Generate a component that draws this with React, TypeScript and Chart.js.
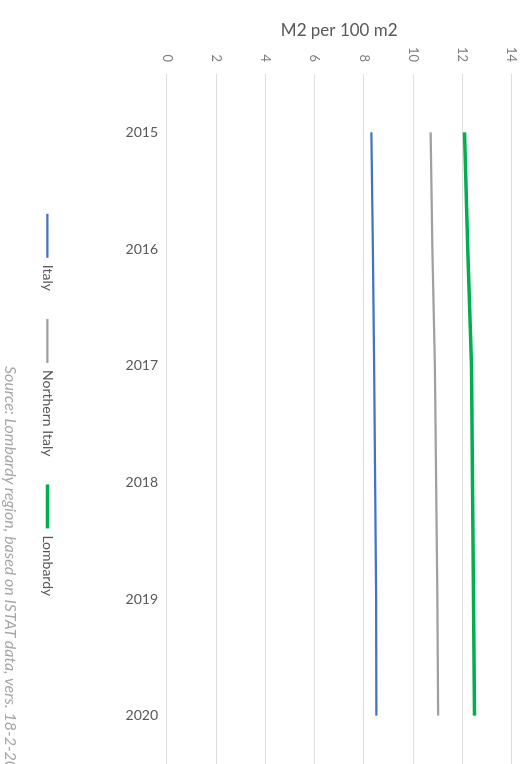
import React, { useEffect, useRef } from "react";
import { Chart, registerables } from "chart.js";

Chart.register(...registerables);

const years = ["2015", "2016", "2017", "2018", "2019", "2020"];
const italy = [8.31, 8.37, 8.42, 8.46, 8.5, 8.51];
const northernItaly = [10.71, 10.78, 10.89, 10.94, 10.99, 11.02];
const lombardy = [12.09, 12.22, 12.37, 12.42, 12.46, 12.5];
const seriesNames = ["Italy", "Northern Italy", "Lombardy"];
const axisMin = 0;
const axisMax = 14;
const axisStep = 2;
const axisTitle = "M2 per 100 m2";
const sourceText = "Source: Lombardy region, based on ISTAT data, vers. 18-2-2021";

const FONT = "Lato, 'Open Sans', sans-serif";
const CW = 802;
const CH = 525;

export default function App() {
  const ref = useRef<HTMLCanvasElement | null>(null);

  useEffect(() => {
    if (!ref.current) return;
    const chart = new Chart(ref.current, {
      type: "line",
      data: {
        labels: years,
        datasets: [
          {
            label: seriesNames[0],
            data: italy,
            borderColor: "#4472C4",
            backgroundColor: "#4472C4",
            borderWidth: 2.25,
            pointRadius: 0,
            tension: 0,
          },
          {
            label: seriesNames[1],
            data: northernItaly,
            borderColor: "#A0A0A0",
            backgroundColor: "#A0A0A0",
            borderWidth: 2.25,
            pointRadius: 0,
            tension: 0,
          },
          {
            label: seriesNames[2],
            data: lombardy,
            borderColor: "#00B050",
            backgroundColor: "#00B050",
            borderWidth: 3.5,
            pointRadius: 0,
            tension: 0,
          },
        ],
      },
      options: {
        responsive: false,
        animation: false,
        devicePixelRatio: 1,
        layout: { padding: { top: 13.5, left: 36, right: 28, bottom: 30.5 } },
        plugins: {
          tooltip: { enabled: false },
          legend: {
            position: "bottom",
            labels: {
              usePointStyle: true,
              pointStyle: "line",
              pointStyleWidth: 44,
              padding: 28,
              color: "#595959",
              font: { family: FONT, size: 14 },
            },
          },
        },
        scales: {
          x: {
            type: "category",
            offset: true,
            grid: { display: false, drawTicks: false },
            border: { display: false },
            ticks: {
              minRotation: 90,
              maxRotation: 90,
              padding: 9,
              color: "#595959",
              font: { family: FONT, size: 14 },
            },
            afterFit: (s: any) => {
              s.height = 84.5;
            },
          },
          y: {
            min: axisMin,
            max: axisMax,
            ticks: {
              stepSize: axisStep,
              padding: 12,
              color: "#7f7f7f",
              font: { family: FONT, size: 13 },
            },
            grid: { color: "#dedede", lineWidth: 1, drawTicks: false },
            border: { display: false },
            title: {
              display: true,
              text: axisTitle,
              color: "#595959",
              font: { family: FONT, size: 17 },
              padding: { top: -16, bottom: 0 },
            },
            afterFit: (s: any) => {
              s.width = 38;
              s.paddingTop = 0;
              s.paddingBottom = 0;
            },
          },
        },
      },
    });
    return () => chart.destroy();
  }, []);

  return (
    <div
      style={{
        position: "fixed",
        left: 0,
        top: 0,
        width: 525,
        height: 764,
        overflow: "hidden",
        background: "#ffffff",
      }}
    >
      <div
        style={{
          position: "absolute",
          left: 0,
          top: 0,
          width: CW,
          height: CH,
          transformOrigin: "0 0",
          transform: "translateX(525px) rotate(90deg)",
        }}
      >
        <canvas ref={ref} width={CW} height={CH} style={{ width: CW, height: CH, display: "block" }} />
        <div
          style={{
            position: "absolute",
            left: 366,
            top: 503.5,
            whiteSpace: "nowrap",
            fontFamily: FONT,
            fontStyle: "italic",
            fontSize: 16,
            lineHeight: "19px",
            color: "#a6a6a6",
          }}
        >
          {sourceText}
        </div>
      </div>
    </div>
  );
}
